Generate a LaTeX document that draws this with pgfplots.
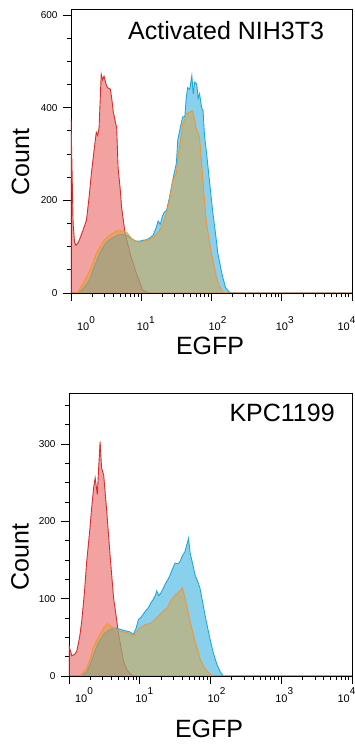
\documentclass[border=0pt]{standalone}
\usepackage{pgfplots}
\pgfplotsset{compat=1.18}
\usepackage{fontspec}
\setmainfont{Liberation Sans}
\definecolor{redl}{RGB}{214,45,45}
\definecolor{redf}{RGB}{232,70,70}
\definecolor{bluel}{RGB}{30,168,218}
\definecolor{bluef}{RGB}{40,170,222}
\definecolor{orl}{RGB}{240,150,55}
\definecolor{orf}{RGB}{222,160,60}
\newcommand\tl[1]{10\raisebox{7pt}{\fontsize{10}{10}\selectfont #1}}
\pgfplotsset{
  flowaxis/.style={
    scale only axis,
    xmin=0, xmax=4,
    axis line style={black, line width=0.8pt},
    tick style={black, line width=0.7pt},
    tick align=outside,
    xtick pos=bottom, ytick pos=left,
    major tick length=8pt, minor tick length=4pt,
    xtick={0,1,2,3,4},
    xticklabels={\hspace*{30pt}\tl{0},\hspace*{9pt}\tl{1},\hspace*{12pt}\tl{2},\hspace*{6pt}\tl{3},\tl{4}\hspace*{11pt}},
    minor xtick={0.301,0.477,0.602,0.699,0.778,0.845,0.903,0.954,1.301,1.477,1.602,1.699,1.778,1.845,1.903,1.954,2.301,2.477,2.602,2.699,2.778,2.845,2.903,2.954,3.301,3.477,3.602,3.699,3.778,3.845,3.903,3.954},
    xticklabel style={font=\fontsize{11}{12}\selectfont, anchor=base, inner sep=0.5pt},
    yticklabel style={font=\fontsize{10}{12}\selectfont, xshift=-2pt},
    xlabel={EGFP}, ylabel={Count},
    every axis x label/.style={at={(axis description cs:0.495,-0.188)}, anchor=center, inner sep=0.5pt, font=\fontsize{25}{30}\selectfont},
  },
  redc/.style={draw=redl, line width=0.9pt, fill=redf, fill opacity=0.5, draw opacity=1},
  bluec/.style={draw=bluel, line width=0.9pt, fill=bluef, fill opacity=0.55, draw opacity=1},
  orc/.style={draw=orl, line width=0.9pt, fill=orf, fill opacity=0.5, draw opacity=1},
}
\pgfplotstableread{
p v
0.00 376
0.01 300
0.03 150
0.05 110
0.07 103
0.10 108
0.12 115
0.17 135
0.22 157
0.26 210
0.29 258
0.33 310
0.36 347
0.38 340
0.40 357
0.43 472
0.45 460
0.47 468
0.50 450
0.52 443
0.56 440
0.58 420
0.60 393
0.63 370
0.65 357
0.67 271
0.70 225
0.72 185
0.77 129
0.84 86
0.93 43
1.02 6
1.12 0
4.00 0
}\topred
\pgfplotstableread{
p v
0.05 0
0.10 3
0.17 20
0.24 40
0.31 64
0.36 85
0.41 99
0.46 112
0.51 120
0.58 128
0.67 135
0.73 134
0.79 131
0.86 118
0.92 112
0.98 110
1.03 112
1.08 114
1.13 117
1.17 120
1.22 127
1.26 135
1.31 150
1.36 172
1.40 200
1.45 243
1.50 258
1.52 290
1.56 330
1.59 365
1.62 375
1.64 387
1.68 390
1.73 393
1.76 375
1.78 357
1.83 336
1.87 258
1.92 163
1.96 120
2.00 86
2.07 34
2.12 12
2.16 2
2.25 0
4.00 0
}\toporange
\pgfplotstableread{
p v
0.10 0
0.17 8
0.22 18
0.27 30
0.34 60
0.41 85
0.46 100
0.51 110
0.58 118
0.67 125
0.73 126
0.79 125
0.86 117
0.92 112
0.98 112
1.03 114
1.08 115
1.13 120
1.17 125
1.21 140
1.24 155
1.27 148
1.30 165
1.33 175
1.36 178
1.40 205
1.45 245
1.50 280
1.52 330
1.56 360
1.59 380
1.62 380
1.64 420
1.66 443
1.69 440
1.72 469
1.74 430
1.76 455
1.79 451
1.81 420
1.83 430
1.86 400
1.88 393
1.90 340
1.93 301
1.97 243
2.00 200
2.02 172
2.06 125
2.09 86
2.13 55
2.16 34
2.20 12
2.25 2
2.30 0
4.00 0
}\topblue
\pgfplotstableread{
p v
0.00 39
0.04 26
0.08 28
0.11 32
0.15 50
0.18 71
0.22 110
0.25 148
0.29 185
0.32 217
0.35 245
0.37 256
0.40 235
0.42 270
0.44 303
0.46 269
0.49 260
0.53 217
0.58 157
0.63 101
0.67 75
0.70 54
0.74 35
0.77 19
0.82 8
0.86 3
0.92 0
4.00 0
}\botred
\pgfplotstableread{
p v
0.14 0
0.20 4
0.25 10
0.30 22
0.34 36
0.39 46
0.44 54
0.49 62
0.54 68
0.58 65
0.63 62
0.68 60
0.72 58
0.77 57
0.82 56
0.86 54
0.91 52
0.95 57
1.00 62
1.05 65
1.10 67
1.15 68
1.19 71
1.24 76
1.29 80
1.34 85
1.39 88
1.43 96
1.47 101
1.52 106
1.57 110
1.60 114
1.62 108
1.64 101
1.68 85
1.71 71
1.75 57
1.78 45
1.82 33
1.85 23
1.90 13
1.95 6
2.00 2
2.05 0
4.00 0
}\botorange
\pgfplotstableread{
p v
0.18 0
0.25 5
0.30 15
0.35 28
0.40 40
0.45 48
0.50 55
0.55 58
0.60 61
0.65 62
0.70 61
0.74 60
0.77 59
0.82 58
0.86 57
0.91 54
0.95 62
0.98 73
1.02 76
1.05 80
1.09 85
1.12 88
1.16 95
1.19 99
1.22 104
1.24 110
1.27 104
1.29 106
1.33 113
1.36 119
1.40 125
1.43 131
1.47 140
1.50 146
1.54 145
1.57 148
1.60 155
1.64 161
1.66 168
1.69 178
1.71 160
1.74 148
1.76 140
1.78 131
1.82 122
1.85 114
1.88 100
1.92 80
1.96 62
2.00 45
2.04 30
2.09 15
2.14 5
2.18 0
4.00 0
}\botblue
\begin{document}
\begin{tikzpicture}
\begin{axis}[flowaxis,
  at={(71pt,451pt)}, anchor=south west,
  width=281pt, height=284pt,
  ymin=0, ymax=613,
  ytick={0,200,400,600}, yticklabels={0,200,400,600},
  minor ytick={50,100,150,250,300,350,450,500,550},
  xticklabel style={yshift=-30pt},
  every axis y label/.style={at={(axis description cs:-0.18,0.46)}, anchor=center, rotate=90, font=\fontsize{25}{30}\selectfont},
]
\addplot[redc] table[x=p,y=v]{\topred} \closedcycle;
\addplot[bluec] table[x=p,y=v]{\topblue} \closedcycle;
\addplot[orc] table[x=p,y=v]{\toporange} \closedcycle;
\node[font=\fontsize{25}{30}\selectfont, anchor=center] at (rel axis cs:0.552,0.923) {Activated NIH3T3};
\end{axis}
\begin{axis}[flowaxis,
  at={(69pt,68pt)}, anchor=south west,
  width=283pt, height=283pt,
  ymin=0, ymax=366,
  ytick={0,100,200,300}, yticklabels={0,100,200,300},
  minor ytick={25,50,75,125,150,175,225,250,275,325,350},
  xticklabel style={yshift=-18pt},
  every axis y label/.style={at={(axis description cs:-0.173,0.42)}, anchor=center, rotate=90, font=\fontsize{25}{30}\selectfont},
]
\addplot[redc] table[x=p,y=v]{\botred} \closedcycle;
\addplot[bluec] table[x=p,y=v]{\botblue} \closedcycle;
\addplot[orc] table[x=p,y=v]{\botorange} \closedcycle;
\node[font=\fontsize{25}{30}\selectfont, anchor=center] at (rel axis cs:0.753,0.929) {KPC1199};
\end{axis}
\pgfresetboundingbox
\useasboundingbox (0,0) rectangle (354pt,744pt);
\end{tikzpicture}
\end{document}
